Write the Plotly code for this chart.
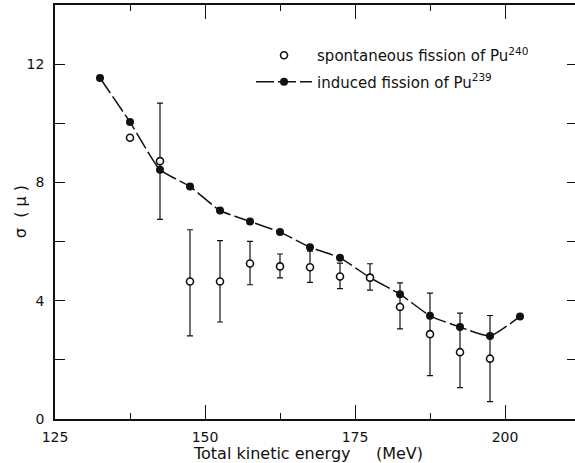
import plotly.graph_objects as go

# Induced fission of Pu-239 (filled points joined by a smooth curve)
energy_induced = [132.5, 137.5, 142.5, 147.5, 152.5, 157.5, 162.5, 167.5,
                  172.5, 177.5, 182.5, 187.5, 192.5, 197.5, 202.5]
sigma_induced = [11.53, 10.04, 8.43, 7.86, 7.05, 6.68, 6.32, 5.81,
                 5.45, 4.78, 4.22, 3.49, 3.11, 2.81, 3.47]

# Spontaneous fission of Pu-240 (open points with error bars)
energy_spont = [137.5, 142.5, 147.5, 152.5, 157.5, 162.5, 167.5,
                172.5, 177.5, 182.5, 187.5, 192.5, 197.5]
sigma_spont = [9.51, 8.72, 4.65, 4.65, 5.26, 5.16, 5.13,
               4.82, 4.78, 3.79, 2.87, 2.26, 2.04]
err_up = [0, 1.96, 1.75, 1.38, 0.75, 0.42, 0.55,
          0.45, 0.47, 0.81, 1.39, 1.32, 1.46]
err_down = [0, 1.97, 1.84, 1.37, 0.72, 0.39, 0.51,
            0.41, 0.42, 0.74, 1.40, 1.20, 1.45]

x_ticks = [125, 150, 175, 200]
y_ticks = [0, 4, 8, 12]

FONT = "DejaVu Sans"
INK = "#111111"

fig = go.Figure()

fig.add_trace(go.Scatter(
    x=energy_induced, y=sigma_induced,
    mode="lines+markers",
    name="induced fission of Pu<sup>239</sup>",
    legendgroup="b", legendrank=2,
    line=dict(color=INK, width=1.5, shape="spline", smoothing=0.5,
              dash="18px,4px"),
    marker=dict(symbol="circle", size=8, color=INK),
))

fig.add_trace(go.Scatter(
    x=energy_spont, y=sigma_spont,
    mode="markers",
    name="spontaneous fission of Pu<sup>240</sup>",
    legendgroup="a", legendrank=1,
    marker=dict(symbol="circle", size=7, color="white",
                line=dict(color=INK, width=1.6)),
    error_y=dict(type="data", symmetric=False, array=err_up,
                 arrayminus=err_down, color=INK, thickness=1.2, width=3),
))

# Right-hand tick marks without a spine
fig.add_trace(go.Scatter(x=[None], y=[None], yaxis="y2", showlegend=False,
                         hoverinfo="skip"))

fig.update_layout(
    width=575, height=463,
    margin=dict(l=55, r=0, t=5, b=44),
    paper_bgcolor="white", plot_bgcolor="white",
    font=dict(family=FONT, size=13, color=INK),
    showlegend=True,
    legend=dict(x=0.377, y=0.918, xanchor="left", yanchor="top",
                traceorder="grouped", tracegroupgap=4, itemwidth=56,
                bgcolor="rgba(0,0,0,0)", font=dict(size=15, family=FONT)),
    xaxis=dict(
        range=[125, 125 + 520 / 6],
        tickvals=x_ticks, ticktext=[str(v) for v in x_ticks],
        ticks="inside", ticklen=14, tickwidth=1.2, tickcolor=INK,
        minor=dict(dtick=12.5, tick0=125, ticks="inside", ticklen=6,
                   tickwidth=1.2, tickcolor=INK),
        showline=True, linecolor=INK, linewidth=1.5, mirror="ticks",
        showgrid=False, zeroline=False,
        tickfont=dict(size=14), ticklabelstandoff=4,
    ),
    yaxis=dict(
        range=[0, 14],
        tickvals=y_ticks, ticktext=[str(v) for v in y_ticks],
        ticks="inside", ticklen=10, tickwidth=1.2, tickcolor=INK,
        minor=dict(dtick=2, tick0=0, ticks="inside", ticklen=10,
                   tickwidth=1.2, tickcolor=INK),
        showline=True, linecolor=INK, linewidth=1.5,
        showgrid=False, zeroline=False,
        tickfont=dict(size=14), ticklabelstandoff=6,
    ),
    yaxis2=dict(
        range=[0, 14], overlaying="y", side="right",
        tickvals=[2, 4, 6, 8, 10, 12], showticklabels=False,
        ticks="inside", ticklen=8, tickwidth=1.2, tickcolor=INK,
        showline=False, showgrid=False, zeroline=False,
    ),
    annotations=[
        dict(text="Total kinetic energy\u00a0\u00a0\u00a0\u00a0\u00a0(MeV)",
             xref="paper", yref="paper", x=0.486, y=-0.083,
             xanchor="center", yanchor="middle", showarrow=False,
             font=dict(size=16)),
        dict(text="σ\u00a0\u00a0(\u00a0μ\u00a0)",
             xref="paper", yref="paper", x=-0.067, y=0.5,
             xanchor="center", yanchor="middle", textangle=-90,
             showarrow=False, font=dict(size=16)),
    ],
)

fig.write_html("out.html")
